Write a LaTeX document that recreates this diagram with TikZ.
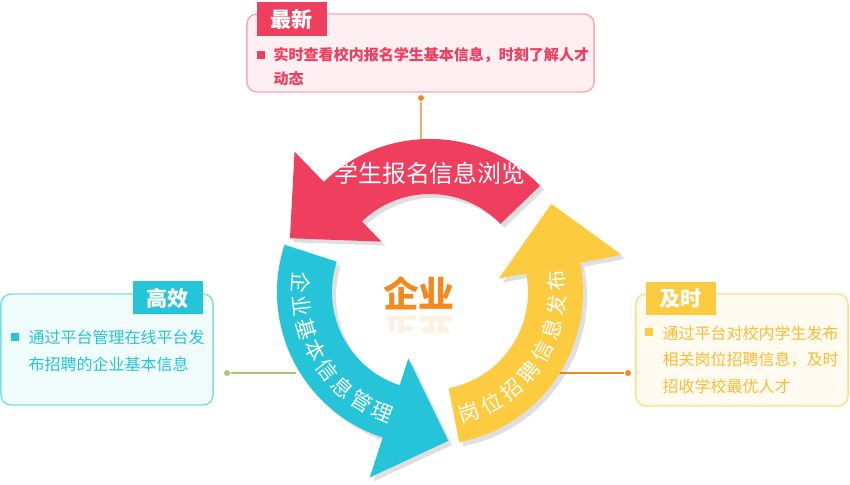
\documentclass[tikz,border=0pt]{standalone}
\usepackage{fontspec}
\setmainfont{Noto Sans CJK SC}
\usepackage{tikz}
\definecolor{colorred}{HTML}{F03E5E}
\definecolor{colorcyan}{HTML}{26C4D9}
\definecolor{coloryellow}{HTML}{FDCB40}
\definecolor{colororange}{HTML}{F5891F}
\definecolor{colorgreen}{HTML}{A8C86E}
\usetikzlibrary{shadows}
\tikzset{
  infobox/.style n args={2}{rectangle, rounded corners=0.1cm, line width=0.4pt, draw=#1, fill=#2},
  tabbox/.style={rectangle, inner sep=0, minimum width=0.7cm, minimum height=0.33cm, fill=#1, text=white, font=\fontsize{6pt}{6pt}\selectfont\bfseries},
  bullet/.style={rectangle, inner sep=0, minimum size=0.08cm, fill=#1},
  boxtext/.style={anchor=west, align=left, inner sep=0, text=#1},
  arctext/.style={inner sep=0, text=white, font=\fontsize{6pt}{6pt}\selectfont},
  dot/.style={circle, inner sep=0, minimum size=0.06cm, fill=#1}
}
\newcommand{\outerr}{153}
\newcommand{\innerr}{98}
\newcommand{\cyclearrow}[2]{%
  \fill[#2, drop shadow={opacity=0.25, shadow xshift=0.04cm, shadow yshift=-0.04cm}]
    (#1:\outerr) arc[start angle=#1, end angle=#1+90, radius=\outerr] -- (#1+90:195) -- (#1+115:150)
    -- (#1+90:70) -- (#1+90:\innerr) arc[start angle=#1+90, end angle=#1, radius=\innerr] -- cycle;}

\begin{document}
\begin{tikzpicture}[x=0.01cm, y=0.01cm]
\useasboundingbox (0,0) rectangle (850,485);

% connectors (behind the wheel)
\node at (421,387) (topdot) [dot=colororange] {};
\coordinate (topend) at (421,340);
\draw[colororange!70, line width=0.5pt] (topdot) -- (topend);

\node at (227,112) (leftdot) [dot=colorgreen] {};
\coordinate (leftend) at (296,112);
\draw[colorgreen, line width=0.5pt] (leftdot) -- (leftend);

\node at (628,112) (rightdot) [dot=colororange] {};
\coordinate (rightend) at (556,112);
\draw[colororange, line width=0.5pt] (rightend) -- (rightdot);

% the wheel
\begin{scope}[shift={(430,193)}]
\cyclearrow{44}{colorred}
\cyclearrow{162}{colorcyan}
\cyclearrow{281}{coloryellow}

\foreach \ch [count=\i] in {企,业,基,本,信,息,管,理}{
  \pgfmathsetmacro{\ang}{176+(\i-1)*10.3}
  \node at (\ang:129) [arctext, rotate=\ang+90] {\ch};
}
\foreach \ch [count=\i] in {岗,位,招,聘,信,息,发,布}{
  \pgfmathsetmacro{\ang}{-72+(\i-1)*11}
  \node at (\ang:127) [arctext, rotate=\ang+90] {\ch};
}
\end{scope}

\node at (430,312) (browse) [inner sep=0, text=white, font=\fontsize{6.8pt}{6.8pt}\selectfont] {学生报名信息浏览};

\node at (419,192) (company) [inner sep=0, text=colororange, font=\fontsize{10.2pt}{10.2pt}\selectfont\bfseries] {企业};
\begin{scope}
\clip (380,152) rectangle (460,170);
\node at (419,152) (mirror) [inner sep=0, yscale=-1, opacity=0.13, text=colororange, font=\fontsize{10.2pt}{10.2pt}\selectfont\bfseries] {企业};
\end{scope}

% top box
\node at (420.5,432) (newbox) [infobox={colorred!45}{colorred!8}, minimum width=3.47cm, minimum height=0.78cm] {};
\node at (292,466) (newtab) [tabbox=colorred] {最新};
\node at (261,430) (newdot) [bullet=colorred] {};
\node at (273,418) (newtext) [boxtext=colorred, font=\fontsize{4.27pt}{6.9pt}\selectfont\bfseries] {实时查看校内报名学生基本信息，时刻了解人才\\动态};

% left box
\node at (107,135.5) (fastbox) [infobox={colorcyan!60}{colorcyan!7}, minimum width=2.12cm, minimum height=1.11cm] {};
\node at (168,187) (fasttab) [tabbox=colorcyan] {高效};
\node at (15,148) (fastdot) [bullet=colorcyan] {};
\node at (28,134.5) (fasttext) [boxtext=colorcyan, font=\fontsize{4.55pt}{7.7pt}\selectfont] {通过平台管理在线平台发\\布招聘的企业基本信息};

% right box
\node at (742,135) (timebox) [infobox={coloryellow!65}{coloryellow!8}, minimum width=2.12cm, minimum height=1.12cm] {};
\node at (681,186) (timetab) [tabbox=coloryellow] {及时};
\node at (649,153) (timedot) [bullet=coloryellow] {};
\node at (662,125.5) (timetext) [boxtext={coloryellow!80!orange}, font=\fontsize{4.55pt}{7.55pt}\selectfont] {通过平台对校内学生发布\\相关岗位招聘信息，及时\\招收学校最优人才};

\end{tikzpicture}
\end{document}
